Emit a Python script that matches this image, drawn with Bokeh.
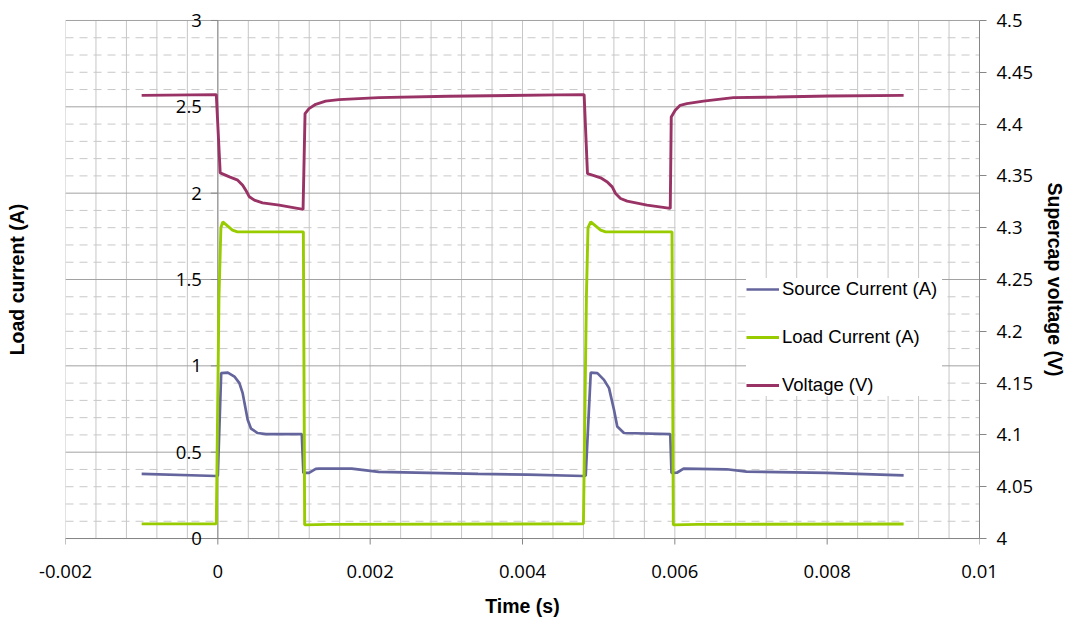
import numpy as np
from bokeh.plotting import figure
from bokeh.models import (Range1d, LinearAxis, FixedTicker, CustomJSTickFormatter,
                          Legend, LegendItem)
from bokeh.core.properties import value
from bokeh.embed import file_html
from bokeh.resources import INLINE

# ---------------- data ----------------
volt_t = [-0.001000, -0.000020, 0.000031, 0.000153, 0.000261, 0.000326, 0.000371, 0.000414,
          0.000479, 0.000587, 0.000806, 0.001119, 0.001145, 0.001197, 0.001285, 0.001415,
          0.001589, 0.001850, 0.002111, 0.003025, 0.004461, 0.004809, 0.004853, 0.004918,
          0.005026, 0.005113, 0.005178, 0.005222, 0.005287, 0.005374, 0.005635, 0.005940,
          0.005953, 0.006005, 0.006070, 0.006158, 0.006376, 0.006768, 0.007340, 0.008030,
          0.009004]
volt_v = [4.4277, 4.4284, 4.3529, 4.3490, 4.3459, 4.3410, 4.3356, 4.3298,
          4.3266, 4.3240, 4.3218, 4.3177, 4.4101, 4.4149, 4.4191, 4.4222,
          4.4236, 4.4246, 4.4255, 4.4268, 4.4282, 4.4284, 4.3523, 4.3507,
          4.3481, 4.3442, 4.3394, 4.3330, 4.3282, 4.3256, 4.3218, 4.3186,
          4.4068, 4.4133, 4.4181, 4.4197, 4.4222, 4.4255, 4.4261, 4.4271,
          4.4277]

src_t = [-0.001000, -0.000020, 0.000000, 0.000044, 0.000131, 0.000218, 0.000283, 0.000326,
         0.000392, 0.000436, 0.000522, 0.000632, 0.001102, 0.001123, 0.001197, 0.001285,
         0.001328, 0.001758, 0.002111, 0.002764, 0.003417, 0.004070, 0.004800, 0.004830,
         0.004896, 0.004983, 0.005070, 0.005136, 0.005201, 0.005244, 0.005332, 0.005940,
         0.005956, 0.006027, 0.006115, 0.006680, 0.006941, 0.007985, 0.009004]
src_i = [0.374, 0.362, 0.364, 0.958, 0.961, 0.938, 0.900, 0.842,
         0.688, 0.636, 0.611, 0.605, 0.605, 0.380, 0.380, 0.403,
         0.405, 0.405, 0.386, 0.380, 0.374, 0.370, 0.362, 0.364,
         0.961, 0.958, 0.919, 0.871, 0.746, 0.649, 0.611, 0.605,
         0.380, 0.381, 0.405, 0.401, 0.387, 0.380, 0.366]

load_t = [-0.001000, -0.000020, 0.000015, 0.000040, 0.000065, 0.000192, 0.000257, 0.001123,
          0.001140, 0.001458, 0.004800, 0.004839, 0.004860, 0.004896, 0.005026, 0.005091,
          0.005963, 0.005980, 0.006300, 0.009004]
load_i = [0.085, 0.085, 1.400, 1.800, 1.834, 1.786, 1.776, 1.776,
          0.079, 0.082, 0.085, 1.400, 1.800, 1.834, 1.786, 1.776,
          1.776, 0.079, 0.082, 0.084]

x_ticks = [-0.002, 0.0, 0.002, 0.004, 0.006, 0.008, 0.01]
left_ticks = [0.0, 0.5, 1.0, 1.5, 2.0, 2.5, 3.0]
left_tick_labels = ["0", "0.5", "1", "1.5", "2", "2.5", "3"]
right_ticks = [4.0, 4.05, 4.1, 4.15, 4.2, 4.25, 4.3, 4.35, 4.4, 4.45, 4.5]

X_MIN, X_MAX = -0.002, 0.01
Y_MIN, Y_MAX = 0.0, 3.0
V_MIN, V_MAX = 4.0, 4.5

# ---------------- styles ----------------
TICK_FONT = "Open Sans"
TICK_SIZE = "18.5px"
TITLE_FONT = "Liberation Sans"
TITLE_SIZE = "19.5px"
AXIS_COLOR = "#868686"
C_SRC = "#65659d"
C_LOAD = "#99cc00"
C_VOLT = "#993366"

# the frame is a little taller than the value area so that the tick labels of the
# axis crossing at x = 0 are not clipped; pad is expressed in left-axis units
PAD = 14 / 173.0
VPAD = PAD * (V_MAX - V_MIN) / (Y_MAX - Y_MIN)

p = figure(width=1069, height=619, x_range=Range1d(X_MIN, X_MAX),
           y_range=Range1d(Y_MIN - PAD, Y_MAX + PAD),
           output_backend="svg", toolbar_location=None,
           min_border_left=65, min_border_right=85, min_border_top=6, min_border_bottom=66)
p.extra_y_ranges = {"volt": Range1d(V_MIN - VPAD, V_MAX + VPAD)}
p.outline_line_color = None
p.background_fill_color = "white"
p.border_fill_color = "white"
p.grid.visible = False

# grid lines limited to the value area
xgrid_ticks = [(X_MIN + k * 0.0004) for k in range(31)]
ygrid_minor = [k / 10 for k in range(31) if k % 5 != 0]
p.segment(x0=xgrid_ticks, y0=[Y_MIN] * len(xgrid_ticks), x1=xgrid_ticks, y1=[Y_MAX] * len(xgrid_ticks),
          line_color="#c6c6c6", line_width=1)
p.segment(x0=[X_MIN] * len(ygrid_minor), y0=ygrid_minor, x1=[X_MAX] * len(ygrid_minor), y1=ygrid_minor,
          line_color="#c8c8c8", line_width=1, line_dash="8 6")
p.segment(x0=[X_MIN] * len(left_ticks), y0=left_ticks, x1=[X_MAX] * len(left_ticks), y1=left_ticks,
          line_color="#a2a2a2", line_width=1)

# x axis line at y = 0 with its ticks
p.segment(x0=[X_MIN], y0=[0], x1=[X_MAX], y1=[0], line_color=AXIS_COLOR, line_width=1)
p.ray(x=x_ticks, y=[0] * len(x_ticks), length=6, length_units="screen", angle=-np.pi / 2,
      line_color=AXIS_COLOR, line_width=1)

# x axis labels and title (panel below)
xa = p.xaxis[0]
xa.ticker = FixedTicker(ticks=x_ticks, minor_ticks=[])
xa.formatter = CustomJSTickFormatter(code="return String(Math.round(tick*1000)/1000);")
xa.axis_label = "Time (s)"
xa.axis_line_color = None
xa.major_tick_line_color = None
xa.minor_tick_line_color = None
xa.major_tick_in = 0
xa.major_tick_out = 0
xa.major_label_standoff = 12
xa.major_label_text_font = TICK_FONT
xa.major_label_text_font_size = TICK_SIZE
xa.major_label_text_color = "black"
xa.axis_label_text_font = TITLE_FONT
xa.axis_label_text_font_size = TITLE_SIZE
xa.axis_label_text_font_style = "bold"
xa.axis_label_text_color = "black"
xa.axis_label_standoff = 14

# left axis: title only (at the chart edge)
ya = p.yaxis[0]
ya.ticker = FixedTicker(ticks=[], minor_ticks=[])
ya.axis_line_color = None
ya.major_tick_line_color = None
ya.minor_tick_line_color = None
ya.major_tick_out = 0
ya.axis_label = "Load current (A)"
ya.axis_label_text_font = TITLE_FONT
ya.axis_label_text_font_size = TITLE_SIZE
ya.axis_label_text_font_style = "bold"
ya.axis_label_text_color = "black"
ya.axis_label_standoff = 38

# left value axis crossing at x = 0
p.segment(x0=[0], y0=[Y_MIN], x1=[0], y1=[Y_MAX], line_color=AXIS_COLOR, line_width=1)
p.ray(x=[0] * len(left_ticks), y=left_ticks, length=7, length_units="screen", angle=np.pi,
      line_color=AXIS_COLOR, line_width=1)
p.text(x=[0] * len(left_ticks), y=left_ticks, text=left_tick_labels, x_offset=-16,
       text_align="right", text_baseline="middle", text_font=value(TICK_FONT),
       text_font_size=TICK_SIZE, text_color="black")

# right axis
ra = LinearAxis(y_range_name="volt", ticker=FixedTicker(ticks=right_ticks, minor_ticks=[]),
                formatter=CustomJSTickFormatter(code="return String(Math.round(tick*100)/100);"),
                axis_label="Supercap voltage (V)", bounds=(V_MIN, V_MAX))
ra.axis_line_color = AXIS_COLOR
ra.major_tick_line_color = AXIS_COLOR
ra.major_tick_in = 0
ra.major_tick_out = 7
ra.major_label_standoff = 10
ra.major_label_text_font = TICK_FONT
ra.major_label_text_font_size = TICK_SIZE
ra.major_label_text_color = "black"
ra.axis_label_text_font = TITLE_FONT
ra.axis_label_text_font_size = TITLE_SIZE
ra.axis_label_text_font_style = "bold"
ra.axis_label_text_color = "black"
ra.axis_label_standoff = 8
p.add_layout(ra, "right")

# series
r_src = p.line(src_t, src_i, line_color=C_SRC, line_width=2.7)
r_load = p.line(load_t, load_i, line_color=C_LOAD, line_width=2.9)
r_volt = p.line(volt_t, volt_v, line_color=C_VOLT, line_width=2.9, y_range_name="volt")

legend = Legend(items=[LegendItem(label="Source Current (A)", renderers=[r_src]),
                       LegendItem(label="Load Current (A)", renderers=[r_load]),
                       LegendItem(label="Voltage (V)", renderers=[r_volt])],
                location=(681, 156))
legend.border_line_color = None
legend.background_fill_color = "white"
legend.background_fill_alpha = 1.0
legend.padding = 20
legend.spacing = 26
legend.margin = 0
legend.glyph_height = 22
legend.glyph_width = 33
legend.label_standoff = 3
legend.label_width = 160
legend.label_text_font = TITLE_FONT
legend.label_text_font_size = "18.5px"
legend.label_text_color = "black"
legend.label_height = 22
p.add_layout(legend)

open("out.html", "w").write(file_html(p, INLINE))
